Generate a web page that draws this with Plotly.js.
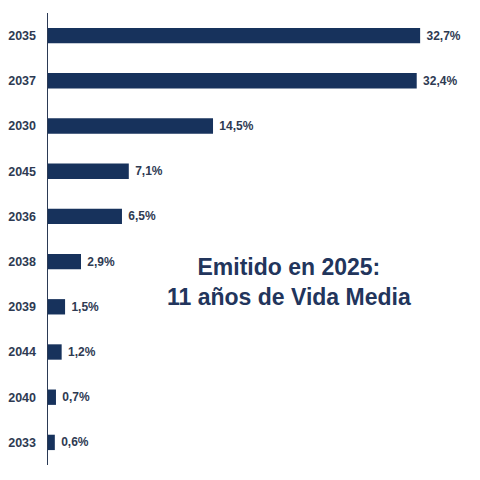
<!DOCTYPE html>
<html><head><meta charset="utf-8">
<script src="https://cdn.plot.ly/plotly-3.0.1.min.js"></script>
<style>html,body{margin:0;padding:0;background:#fff}#c{width:480px;height:480px}</style>
</head><body><div id="c"></div>
<script>
const years = ["2035","2037","2030","2045","2036","2038","2039","2044","2040","2033"];
const values = [32.7,32.4,14.5,7.1,6.5,2.9,1.5,1.2,0.7,0.6];
const labels = ["32,7%","32,4%","14,5%","7,1%","6,5%","2,9%","1,5%","1,2%","0,7%","0,6%"];
const note = "Emitido en 2025:<br>11 años de Vida Media";

const trace = {
  type: "bar", orientation: "h",
  y: years, x: values, text: labels.map(s => "\u00a0" + s),
  textposition: "outside", cliponaxis: false,
  textfont: {family: "Liberation Sans, Arial, sans-serif", size: 12, color: "#2e3a52", weight: "bold"},
  marker: {color: "#17325c"},
  hoverinfo: "skip"
};
const layout = {
  width: 480, height: 480,
  margin: {l: 48, r: 0, t: 13, b: 15},
  paper_bgcolor: "#fff", plot_bgcolor: "#fff",
  showlegend: false,
  bargap: 0.66,
  xaxis: {range: [0, 37.96], visible: false, fixedrange: true},
  yaxis: {
    type: "category", autorange: false, range: [9.5, -0.5],
    showline: true, linecolor: "#2b3a55", linewidth: 1.5,
    showgrid: false, zeroline: false, ticks: "", ticklabelstandoff: 8,
    tickfont: {family: "Liberation Sans, Arial, sans-serif", size: 12.5, color: "#2e3a52", weight: "bold"}
  },
  annotations: [{
    text: note, xref: "paper", yref: "paper",
    x: 0.559, y: 0.405, showarrow: false, align: "center",
    font: {family: "Liberation Sans, Arial, sans-serif", size: 23, color: "#22355c", weight: "bold"}
  }]
};
Plotly.newPlot("c", [trace], layout, {staticPlot: true});
</script></body></html>
